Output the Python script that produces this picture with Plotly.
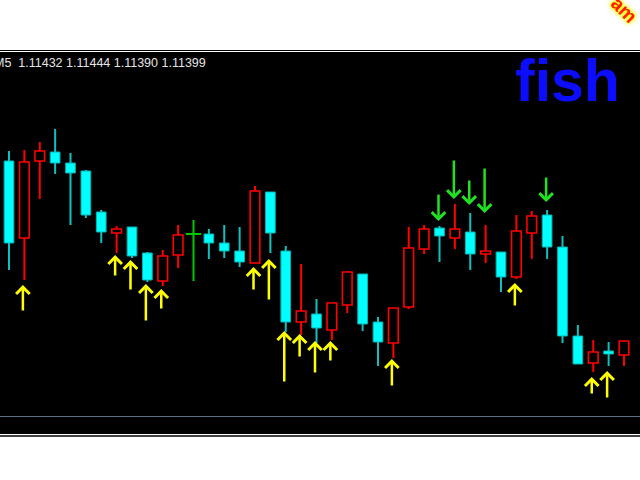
import plotly.graph_objects as go

# M5 bars, left to right (index 0 = first visible bar)
bar_open = [1.11614, 1.11537, 1.11614, 1.11623, 1.11612, 1.11604, 1.11563, 1.11542, 1.11548, 1.11522,
            1.11494, 1.11520, 1.11541, 1.11541, 1.11532, 1.11524, 1.11512, 1.11583, 1.11524, 1.11453,
            1.11461, 1.11445, 1.11470, 1.11501, 1.11453, 1.11432, 1.11468, 1.11526, 1.11547, 1.11537,
            1.11543, 1.11521, 1.11523, 1.11498, 1.11542, 1.11560, 1.11528, 1.11439, 1.11412, 1.11424,
            1.11420]
bar_high = [1.11624, 1.11625, 1.11633, 1.11646, 1.11622, 1.11605, 1.11565, 1.11549, 1.11548, 1.11523,
            1.11525, 1.11550, 1.11555, 1.11546, 1.11550, 1.11548, 1.11589, 1.11583, 1.11529, 1.11511,
            1.11476, 1.11472, 1.11504, 1.11501, 1.11458, 1.11467, 1.11548, 1.11550, 1.11549, 1.11571,
            1.11562, 1.11550, 1.11523, 1.11560, 1.11564, 1.11565, 1.11539, 1.11450, 1.11435, 1.11433,
            1.11434]
bar_low = [1.11505, 1.11495, 1.11576, 1.11601, 1.11550, 1.11557, 1.11532, 1.11522, 1.11517, 1.11493,
           1.11489, 1.11507, 1.11494, 1.11516, 1.11517, 1.11508, 1.11512, 1.11522, 1.11443, 1.11440,
           1.11432, 1.11435, 1.11462, 1.11444, 1.11409, 1.11417, 1.11466, 1.11521, 1.11513, 1.11526,
           1.11505, 1.11512, 1.11483, 1.11496, 1.11516, 1.11516, 1.11432, 1.11411, 1.11403, 1.11409,
           1.11409]
bar_close = [1.11532, 1.11613, 1.11624, 1.11612, 1.11602, 1.11560, 1.11543, 1.11546, 1.11519, 1.11495,
             1.11519, 1.11540, 1.11541, 1.11532, 1.11524, 1.11513, 1.11584, 1.11542, 1.11453, 1.11464,
             1.11447, 1.11472, 1.11503, 1.11451, 1.11433, 1.11467, 1.11527, 1.11546, 1.11539, 1.11546,
             1.11521, 1.11524, 1.11498, 1.11544, 1.11559, 1.11528, 1.11439, 1.11411, 1.11423, 1.11421,
             1.11434]

# signal arrows: bar index, tip price, tail price
buy_bar = [1, 7, 8, 9, 10, 16, 17, 18, 19, 20, 21, 25, 33, 38, 39]
buy_tip = [1.11490, 1.11520, 1.11515, 1.11491, 1.11486, 1.11508, 1.11516, 1.11444, 1.11441, 1.11434,
           1.11434, 1.11416, 1.11492, 1.11398, 1.11404]
buy_tail = [1.11463, 1.11498, 1.11484, 1.11453, 1.11465, 1.11484, 1.11474, 1.11392, 1.11417, 1.11401,
            1.11413, 1.11388, 1.11468, 1.11380, 1.11376]

sell_bar = [28, 29, 30, 31, 35]
sell_tip = [1.11554, 1.11576, 1.11570, 1.11562, 1.11573]
sell_tail = [1.11582, 1.11616, 1.11596, 1.11608, 1.11599]

header = "M5  1.11432 1.11444 1.11390 1.11399"

CYAN = "#00ffff"
CYAN_EDGE = "#00b4b4"
RED = "#ff0000"
GREEN = "#00c800"
BODY_W = 0.63
TICK = 0.00001

groups = {"up": [], "down": [], "doji": []}
for i, (o, c) in enumerate(zip(bar_open, bar_close)):
    if c > o:
        groups["up"].append(i)
    elif c < o:
        groups["down"].append(i)
    else:
        groups["doji"].append(i)


def wicks(idx):
    xs, ys = [], []
    for i in idx:
        top = max(bar_open[i], bar_close[i])
        bot = min(bar_open[i], bar_close[i])
        xs += [i, i, None, i, i, None]
        ys += [bar_high[i], top, None, bot, bar_low[i], None]
    return xs, ys


fig = go.Figure()

for key, fill, edge, lw in [("down", CYAN, CYAN_EDGE, 1), ("up", "#000000", RED, 1.6)]:
    idx = groups[key]
    wx, wy = wicks(idx)
    fig.add_trace(go.Scatter(x=wx, y=wy, mode="lines",
                             line=dict(color=edge if key == "up" else "#10c0c0", width=2),
                             hoverinfo="skip"))
    fig.add_trace(go.Bar(
        x=idx,
        y=[max(abs(bar_close[i] - bar_open[i]), TICK) for i in idx],
        base=[min(bar_open[i], bar_close[i]) for i in idx],
        width=BODY_W,
        marker=dict(color=fill, line=dict(color=edge, width=lw)),
        hoverinfo="skip",
    ))

# doji bars
idx = groups["doji"]
fig.add_trace(go.Scatter(x=[v for i in idx for v in (i, i, None)],
                         y=[v for i in idx for v in (bar_high[i], bar_low[i], None)],
                         mode="lines", line=dict(color=GREEN, width=2), hoverinfo="skip"))
fig.add_trace(go.Scatter(x=idx, y=[bar_open[i] for i in idx], mode="markers",
                         marker=dict(symbol="line-ew", size=11, line=dict(color=GREEN, width=2)),
                         hoverinfo="skip"))

for b, tip, tail in zip(buy_bar, buy_tip, buy_tail):
    fig.add_annotation(x=b, y=tip, ax=b, ay=tail, axref="x", ayref="y", text="",
                       showarrow=True, arrowhead=4, arrowsize=1.05, arrowwidth=2.5,
                       arrowcolor="#ffff00", xshift=-1.5)
for b, tip, tail in zip(sell_bar, sell_tip, sell_tail):
    fig.add_annotation(x=b, y=tip, ax=b, ay=tail, axref="x", ayref="y", text="",
                       showarrow=True, arrowhead=4, arrowsize=1.05, arrowwidth=2.5,
                       arrowcolor="#22e022", xshift=-1)

fig.add_annotation(xref="paper", yref="paper", x=0, y=0.971, xanchor="left", yanchor="middle",
                   text=header, showarrow=False, xshift=-8,
                   font=dict(family="Liberation Sans, Arial", size=12.5, color="#e4e4e4"))
fig.add_annotation(xref="paper", yref="paper", x=0.886, y=0.923, xanchor="center", yanchor="middle",
                   text="<b>fish</b>", showarrow=False,
                   font=dict(family="Liberation Sans, Arial", size=59, color="#0c0cff"))
fig.add_annotation(xref="paper", yref="paper", x=0.974, y=1.11, xanchor="center", yanchor="middle",
                   text="<b>am</b>", showarrow=False, textangle=45,
                   font=dict(family="Liberation Sans, Arial", size=19, color="#ff1a00",
                             shadow="0 0 2px #ffff00, 0 0 3px #ffff00, 0 0 5px #ffff00, 0 0 6px #ffff80"))

# window frame lines
fig.add_shape(type="line", xref="paper", yref="paper", x0=0, x1=1, y0=1.0039, y1=1.0039,
              line=dict(color="#000000", width=1.2))
fig.add_shape(type="line", xref="paper", yref="paper", x0=0, x1=1, y0=-0.0052, y1=-0.0052,
              line=dict(color="#000000", width=1.5))
fig.add_shape(type="line", xref="paper", yref="paper", x0=0, x1=1, y0=0.0458, y1=0.0458,
              line=dict(color="#5e7182", width=1.2))

fig.update_layout(
    width=640, height=480,
    margin=dict(l=0, r=0, t=52, b=46),
    paper_bgcolor="#ffffff", plot_bgcolor="#000000",
    showlegend=False, barmode="overlay", hovermode=False,
    xaxis=dict(range=[-0.5854, 41.041], visible=False, fixedrange=True),
    yaxis=dict(range=[1.11341, 1.11723], visible=False, fixedrange=True),
)

fig.write_html("out.html", config={"displayModeBar": False},
               post_script="document.body.style.margin='0';document.body.style.overflow='hidden';")
